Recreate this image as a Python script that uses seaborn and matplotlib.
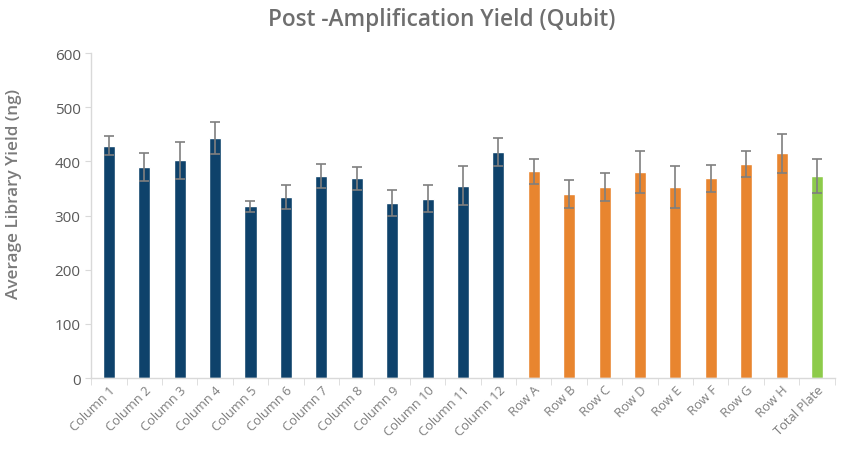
import matplotlib
matplotlib.use("Agg")
import matplotlib.pyplot as plt
import seaborn as sns
import pandas as pd
import numpy as np

categories = ["Column 1", "Column 2", "Column 3", "Column 4", "Column 5", "Column 6",
              "Column 7", "Column 8", "Column 9", "Column 10", "Column 11", "Column 12",
              "Row A", "Row B", "Row C", "Row D", "Row E", "Row F", "Row G", "Row H",
              "Total Plate"]
yields = [429, 390, 402, 443, 317, 334, 373, 369, 323, 331, 355, 417,
          382, 340, 353, 380, 353, 369, 395, 415, 373]
errors = [17, 26, 34, 29, 10, 22, 23, 21, 24, 25, 36, 26,
          23, 26, 26, 39, 39, 25, 24, 36, 32]
groups = ["Column"] * 12 + ["Row"] * 8 + ["Total"]
palette = {"Column": "#0E426B", "Row": "#E8852F", "Total": "#8DCB4A"}

df = pd.DataFrame({"cat": categories, "yield": yields, "err": errors, "group": groups})

sns.set_style("white")
plt.rcParams['font.family'] = ['Open Sans', 'DejaVu Sans']

fig = plt.figure(figsize=(8.44, 4.52), dpi=100)
ax = fig.add_axes([0.108, 0.1615, 0.881, 0.719])

sns.barplot(data=df, x="cat", y="yield", hue="group", palette=palette,
            dodge=False, width=0.34, legend=False, ax=ax, saturation=1)
ax.errorbar(x=np.arange(len(categories)), y=df["yield"], yerr=df["err"],
            fmt="none", ecolor="#7F7F7F", elinewidth=1.2, capsize=3.5, capthick=1.2)

ax.set_ylim(0, 600)
ax.set_xlim(-0.5, len(categories) - 0.5)
ax.set_yticks(range(0, 601, 100))
ax.set_xlabel("")
ax.set_ylabel("Average Library Yield (ng)", color="#7A7A7A", fontsize=12.3,
              fontweight="semibold")
ax.yaxis.set_label_coords(-0.093, 0.57)
fig.text(0.523, 1 - 20 / 452, "Post -Amplification Yield (Qubit)", color="#6E6E6E",
         fontsize=16.3, fontweight="semibold", ha="center", va="center")

for s in ["top", "right"]:
    ax.spines[s].set_visible(False)
for s in ["left", "bottom"]:
    ax.spines[s].set_color("#D9D9D9")
    ax.spines[s].set_linewidth(1)

ax.tick_params(axis="y", colors="#595959", labelsize=11, length=4, color="#D9D9D9", left=True)
ax.tick_params(axis="x", colors="#7F7F7F", labelsize=9.3, length=0)
ax.set_xticks(np.arange(len(categories)))
ax.set_xticklabels(categories, rotation=45, ha="right", rotation_mode="anchor")
ax.set_xticks(np.arange(len(categories) + 1) - 0.5, minor=True)
ax.tick_params(axis="x", which="minor", length=5, color="#D9D9D9", bottom=True)
ax.grid(False)

fig.savefig("out.png", dpi=100)
